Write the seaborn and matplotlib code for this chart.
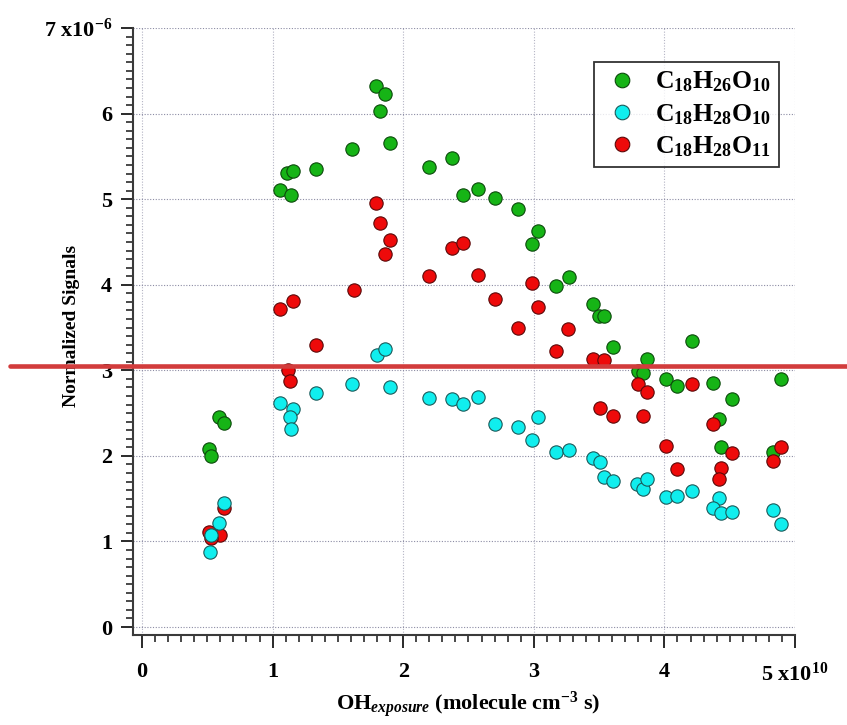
import matplotlib
matplotlib.use("Agg")
import matplotlib.pyplot as plt
from matplotlib.lines import Line2D
from matplotlib.ticker import MultipleLocator, FuncFormatter
import seaborn as sns

# x in units of 1e10 molecule cm-3 s, y in units of 1e-6
green_x = [0.51, 0.53, 0.59, 0.63, 1.79, 1.86, 1.82, 1.90, 1.61, 1.33,
           1.11, 1.16, 1.06, 1.14, 2.20, 2.37, 2.46, 2.57, 2.70, 2.88,
           3.03, 2.99, 3.17, 3.27, 3.45, 3.50, 3.54, 3.61, 4.21, 3.87,
           3.80, 3.84, 4.01, 4.10, 4.37, 4.52, 4.89, 4.42, 4.43, 4.83]
green_y = [2.08, 2.00, 2.45, 2.38, 6.32, 6.23, 6.03, 5.66, 5.59, 5.35,
           5.31, 5.33, 5.11, 5.05, 5.38, 5.48, 5.05, 5.12, 5.01, 4.89,
           4.63, 4.48, 3.99, 4.09, 3.78, 3.63, 3.63, 3.27, 3.34, 3.13,
           2.99, 2.97, 2.90, 2.82, 2.85, 2.67, 2.90, 2.43, 2.10, 2.05]

cyan_x = [1.80, 1.86, 1.33, 1.61, 1.90, 1.06, 1.16, 1.13, 1.14, 2.20,
          2.37, 2.46, 2.57, 0.63, 0.59, 0.53, 0.52, 2.70, 2.88, 3.03,
          2.99, 3.17, 3.27, 3.45, 3.51, 3.54, 3.61, 3.79, 3.84, 3.87,
          4.01, 4.10, 4.21, 4.42, 4.37, 4.43, 4.52, 4.83, 4.89]
cyan_y = [3.18, 3.25, 2.73, 2.84, 2.81, 2.62, 2.55, 2.45, 2.31, 2.68,
          2.67, 2.61, 2.69, 1.45, 1.22, 1.08, 0.88, 2.37, 2.34, 2.45,
          2.19, 2.05, 2.07, 1.98, 1.93, 1.75, 1.71, 1.67, 1.61, 1.73,
          1.52, 1.53, 1.59, 1.51, 1.39, 1.33, 1.34, 1.37, 1.20]

red_x = [1.79, 1.82, 1.90, 1.86, 2.37, 2.46, 2.20, 2.57, 1.62, 1.06,
         1.16, 1.33, 1.12, 1.13, 0.51, 0.60, 0.53, 0.63, 2.70, 2.88,
         2.99, 3.03, 3.26, 3.17, 3.45, 3.54, 3.80, 3.87, 4.21, 3.51,
         3.61, 3.84, 4.37, 4.01, 4.52, 4.10, 4.43, 4.42, 4.83, 4.89]
red_y = [4.96, 4.72, 4.52, 4.36, 4.43, 4.49, 4.10, 4.11, 3.94, 3.72,
         3.81, 3.30, 3.00, 2.88, 1.11, 1.08, 1.04, 1.39, 3.83, 3.49,
         4.02, 3.74, 3.48, 3.23, 3.13, 3.12, 2.84, 2.75, 2.84, 2.56,
         2.47, 2.47, 2.37, 2.12, 2.03, 1.85, 1.86, 1.73, 1.94, 2.10]

series_names = ["C$_{18}$H$_{26}$O$_{10}$",
                "C$_{18}$H$_{28}$O$_{10}$",
                "C$_{18}$H$_{28}$O$_{11}$"]
face_colors = ["#16b416", "#10eeee", "#ee0a0a"]
edge_colors = ["#0b4a0b", "#1a5a5a", "#5a0808"]

sns.set_style("white")
plt.rcParams["font.family"] = ["Liberation Serif", "DejaVu Serif"]
plt.rcParams["font.weight"] = "bold"
plt.rcParams["text.color"] = "black"
plt.rcParams["axes.labelcolor"] = "black"
plt.rcParams["xtick.color"] = "black"
plt.rcParams["ytick.color"] = "black"
plt.rcParams["mathtext.fontset"] = "custom"
plt.rcParams["mathtext.rm"] = "Liberation Serif:bold"
plt.rcParams["mathtext.bf"] = "Liberation Serif:bold"
plt.rcParams["mathtext.it"] = "Liberation Serif:bold:italic"
plt.rcParams["mathtext.default"] = "rm"

fig = plt.figure(figsize=(8.47, 7.25), dpi=100)
ax = fig.add_axes([0.157, 0.1241, 0.7816, 0.8372])

# draw order green, red, cyan (cyan sits on top in the reference)
series = [(green_x, green_y, 0), (red_x, red_y, 2), (cyan_x, cyan_y, 1)]
for xs, ys, k in series:
    sns.scatterplot(x=xs, y=ys, ax=ax, color=face_colors[k],
                    edgecolor=edge_colors[k], linewidth=0.8, s=92,
                    legend=False, zorder=3)

ax.set_xlim(-0.069, 5.0)
ax.set_ylim(-0.0935, 7.0)

ax.xaxis.set_major_locator(MultipleLocator(1))
ax.xaxis.set_minor_locator(MultipleLocator(0.1))
ax.yaxis.set_major_locator(MultipleLocator(1))
ax.yaxis.set_minor_locator(MultipleLocator(0.1))

ax.yaxis.set_major_formatter(FuncFormatter(
    lambda v, p: "7 x10$^{-6}$" if abs(v - 7) < 1e-6 else f"{v:.0f}"))
ax.xaxis.set_major_formatter(FuncFormatter(
    lambda v, p: "5 x10$^{10}$" if abs(v - 5) < 1e-6 else f"{v:.0f}"))

for side in ["top", "right"]:
    ax.spines[side].set_visible(False)
for side in ["left", "bottom"]:
    ax.spines[side].set_color("#3a3a3a")
    ax.spines[side].set_linewidth(1.5)

ax.tick_params(axis="both", which="both", bottom=True, left=True,
               top=False, right=False)
ax.tick_params(axis="both", which="major", direction="out", length=9,
               width=1.4, color="#2a2a2a", labelsize=16, labelcolor="black")
ax.tick_params(axis="both", which="minor", direction="out", length=5,
               width=1.2, color="#2a2a2a")
ax.tick_params(axis="y", which="major", pad=6)
ax.tick_params(axis="x", which="major", pad=10.5)

ax.yaxis.grid(True, which="major", linestyle=(0, (1, 1.5)),
              color="#8c8ca4", linewidth=0.8)
ax.xaxis.grid(True, which="major", linestyle=(0, (1, 1.5)),
              color="#b4b4c4", linewidth=0.8)
ax.set_axisbelow(True)

ax.set_ylabel("Normalized Signals", fontsize=14, fontweight="bold")
ax.set_xlabel("OH$_{\\mathit{exposure}}$ (molecule cm$^{-3}$ s)",
              fontsize=16, fontweight="bold")
ax.yaxis.set_label_coords(-0.080, 0.51)
ax.xaxis.set_label_coords(0.507, -0.09)

handles = [Line2D([], [], marker="o", linestyle="none",
                  markerfacecolor=face_colors[k], markeredgecolor=edge_colors[k],
                  markeredgewidth=0.8, markersize=10.5)
           for k in range(3)]
leg = ax.legend(handles, series_names, loc="upper right",
                bbox_to_anchor=(779 / 847, 1 - 62 / 725),
                bbox_transform=fig.transFigure, frameon=True, fancybox=False,
                edgecolor="black", fontsize=18.5, borderpad=0.3,
                labelspacing=0.3, handletextpad=0.5, borderaxespad=0,
                handlelength=1.6)
leg.get_frame().set_linewidth(1.3)

# red horizontal band across the whole picture
fig.add_artist(Line2D([10 / 847, 1.0], [1 - 366 / 725, 1 - 366 / 725],
                      transform=fig.transFigure, color="#d23c3c", lw=3.3))

fig.savefig("out.png", dpi=100)
